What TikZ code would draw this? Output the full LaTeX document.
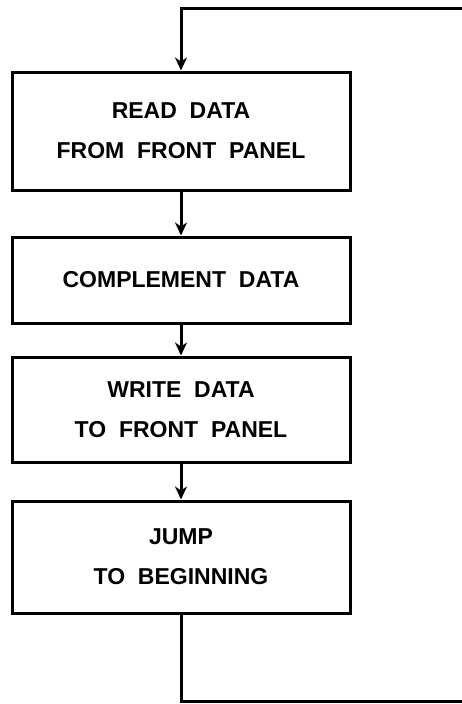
\documentclass[tikz,border=0pt]{standalone}
\usepackage{fontspec}
\setmainfont{Liberation Sans}
\usetikzlibrary{arrows.meta}
\begin{document}
\begin{tikzpicture}[%%
  x=1pt,y=-1pt,%%
  boxStyle/.style={draw,line width=3pt,minimum width=338pt,align=center,%%
    inner sep=0pt,font=\bfseries\fontsize{23}{40}\selectfont},%%
  lineStyle/.style={-,line width=3pt},%%
  arrowStyle/.style={-{Stealth[length=13pt,width=12pt,inset=4pt]},line width=3pt}
]
%%
%%
\useasboundingbox (0,0) rectangle (461,704);
\pgfmathsetmacro{\xmid}{181}
\pgfmathsetmacro{\ytop}{8}
\pgfmathsetmacro{\ybottom}{701}
\pgfmathsetmacro{\xright}{463}
\coordinate (topleft) at (\xmid,\ytop);
\coordinate (topright) at (\xright,\ytop);
\coordinate (bottomleft) at (\xmid,\ybottom);
\coordinate (bottomright) at (\xright,\ybottom);
%%
%% The four steps.
\node[boxStyle,minimum height=118pt] (readData) at (\xmid,131)
  {READ\ \ DATA\\FROM\ \ FRONT\ \ PANEL};
\node[boxStyle,minimum height=86pt] (complementData) at (\xmid,280)
  {COMPLEMENT\ \ DATA};
\node[boxStyle,minimum height=105pt] (writeData) at (\xmid,409.5)
  {WRITE\ \ DATA\\TO\ \ FRONT\ \ PANEL};
\node[boxStyle,minimum height=112pt] (jumpBegin) at (\xmid,557)
  {JUMP\\TO\ \ BEGINNING};
%%
%% The flow from step to step.
\draw[arrowStyle] (readData) -- (complementData);
\draw[arrowStyle] (complementData) -- (writeData);
\draw[arrowStyle] (writeData) -- (jumpBegin);
%%
%% The loop back to the start.
\draw[arrowStyle] (topright) -- (topleft) -- (readData.north);
\draw[lineStyle] (jumpBegin.south) -- (bottomleft) -- (bottomright);
\end{tikzpicture}
\end{document}
